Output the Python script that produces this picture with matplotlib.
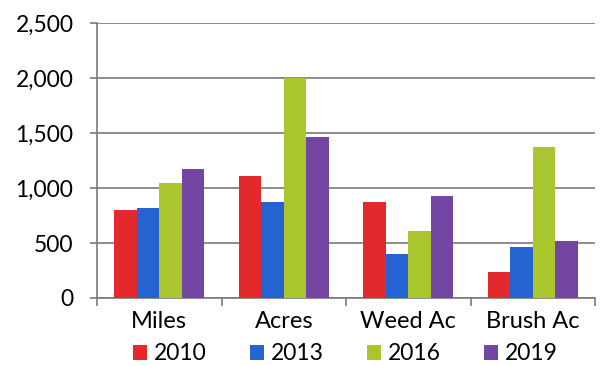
import matplotlib
matplotlib.use("Agg")
import matplotlib.pyplot as plt
import numpy as np
from matplotlib.ticker import FuncFormatter

categories = ["Miles", "Acres", "Weed Ac", "Brush Ac"]
years = ["2010", "2013", "2016", "2019"]
v2010 = [800, 1110, 870, 240]
v2013 = [820, 870, 400, 465]
v2016 = [1050, 2000, 610, 1370]
v2019 = [1170, 1460, 930, 520]
colors = ["#e3292c", "#2463d1", "#a9c62e", "#7446a3"]

plt.rcParams['font.family'] = ['Lato', 'DejaVu Sans']

fig = plt.figure(figsize=(6.01, 3.66), dpi=100)
ax = fig.add_axes([97/601, 1-298/366, (595-97)/601, (298-23)/366])

x = np.arange(len(categories))
w = 0.181
series = [v2010, v2013, v2016, v2019]
for i, (vals, c, yr) in enumerate(zip(series, colors, years)):
    ax.bar(x + (i - 1.5) * w, vals, width=w, color=c, label=yr, zorder=3, linewidth=0)

ax.set_xlim(-0.5, len(categories) - 0.5)
ax.set_ylim(0, 2500)
ax.set_yticks(np.arange(0, 2501, 500))
ax.yaxis.set_major_formatter(FuncFormatter(lambda v, p: f"{int(v):,}"))
ax.grid(axis='y', color='#7a7a7a', linewidth=1.2, zorder=0)
for s in ['top', 'right']:
    ax.spines[s].set_visible(False)
ax.spines['left'].set_color('#7a7a7a')
ax.spines['bottom'].set_color('#7a7a7a')
ax.spines['left'].set_linewidth(1.2)
ax.spines['bottom'].set_linewidth(1.2)

ax.set_xticks(x)
ax.set_xticklabels(categories)
ax.set_xticks(np.arange(-0.5, len(categories), 1), minor=True)
ax.tick_params(axis='x', which='major', length=0, pad=9, labelsize=17)
ax.tick_params(axis='x', which='minor', length=6, color='#7a7a7a', width=1.2)
ax.tick_params(axis='y', length=5, color='#7a7a7a', width=1.2, labelsize=16.5, pad=12)

leg = fig.legend(loc='center', bbox_to_anchor=(0.575, 1-354/366), ncol=4, frameon=False,
                 fontsize=16.5, handlelength=0.6, handleheight=0.6, handletextpad=0.3,
                 columnspacing=1.9, borderpad=0)

fig.savefig("out.png", dpi=100)
